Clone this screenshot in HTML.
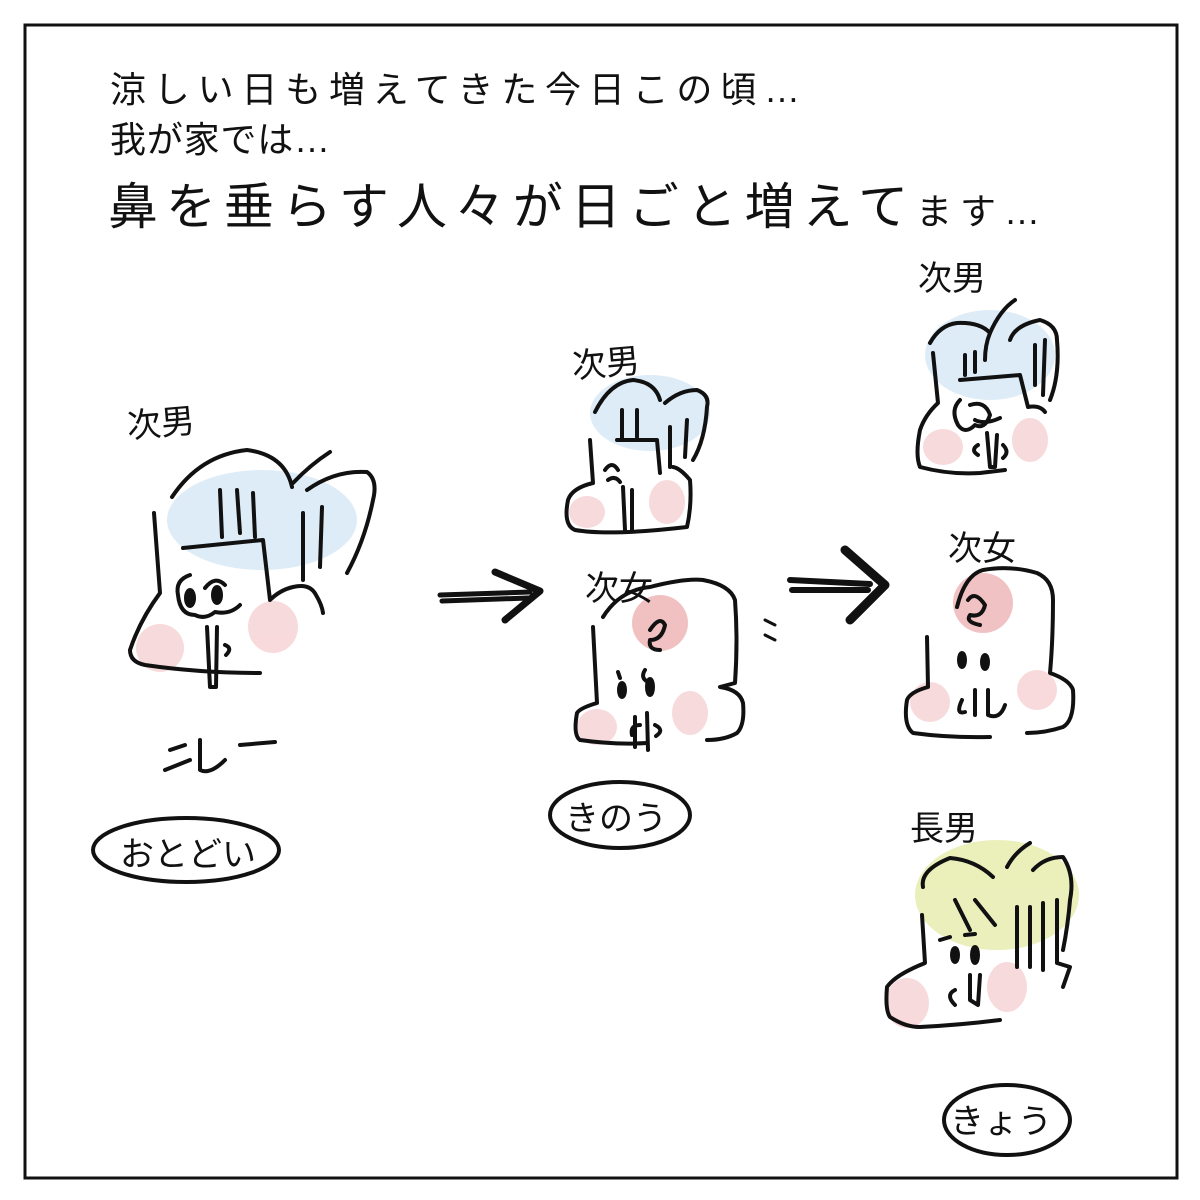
<!DOCTYPE html>
<html><head><meta charset="utf-8"><style>
html,body{margin:0;padding:0;background:#fff;}
svg{display:block}
text{font-family:"Liberation Sans","Noto Sans CJK JP",sans-serif;fill:#111}
</style></head><body>
<svg width="1200" height="1200" viewBox="0 0 1200 1200" xmlns="http://www.w3.org/2000/svg">
<rect x="0" y="0" width="1200" height="1200" fill="#fff"/>
<rect x="25" y="25" width="1152" height="1153" fill="none" stroke="#111" stroke-width="3"/>
<text x="110" y="102" font-size="36" textLength="690" lengthAdjust="spacing">涼しい日も増えてきた今日この頃…</text>
<text x="110" y="152" font-size="36" textLength="220" lengthAdjust="spacing">我が家では…</text>
<text x="108" y="224" font-size="50" textLength="932" lengthAdjust="spacing">鼻を垂らす人々が日ごと増えて<tspan font-size="36">ます…</tspan></text>

<!-- color blobs -->
<g opacity="0.6">
<ellipse cx="262" cy="520" rx="95" ry="50" fill="#c7e0f1"/>
<ellipse cx="160" cy="648" rx="24" ry="24" fill="#f3c2c5"/>
<ellipse cx="273" cy="627" rx="25" ry="26" fill="#f3c2c5"/>
<ellipse cx="650" cy="413" rx="60" ry="38" fill="#c7e0f1"/>
<ellipse cx="587" cy="512" rx="18" ry="16" fill="#f3c2c5"/>
<ellipse cx="667" cy="502" rx="18" ry="22" fill="#f3c2c5"/>
<ellipse cx="660" cy="623" rx="28" ry="28" fill="#e8999b"/>
<ellipse cx="597" cy="727" rx="20" ry="18" fill="#f3c2c5"/>
<ellipse cx="690" cy="713" rx="18" ry="22" fill="#f3c2c5"/>
<ellipse cx="990" cy="355" rx="65" ry="45" fill="#c7e0f1"/>
<ellipse cx="943" cy="447" rx="20" ry="18" fill="#f3c2c5"/>
<ellipse cx="1030" cy="440" rx="18" ry="22" fill="#f3c2c5"/>
<ellipse cx="983" cy="603" rx="30" ry="30" fill="#e8999b"/>
<ellipse cx="930" cy="702" rx="20" ry="20" fill="#f3c2c5"/>
<ellipse cx="1037" cy="690" rx="20" ry="20" fill="#f3c2c5"/>
<ellipse cx="997" cy="895" rx="82" ry="55" fill="#dde68e"/>
<ellipse cx="907" cy="1003" rx="22" ry="25" fill="#f3c2c5"/>
<ellipse cx="1007" cy="987" rx="20" ry="25" fill="#f3c2c5"/>
</g>
<g fill="none" stroke="#111" stroke-width="4" stroke-linecap="round" stroke-linejoin="round">
<!-- left face -->
<path d="M172 497 Q200 455 247 450 Q285 455 292 487"/>
<path d="M293 483 Q310 465 330 452"/>
<path d="M307 490 Q335 470 367 472 Q378 480 373 500 Q365 540 347 573"/>
<path d="M154 513 L160 593 Q140 620 130 650 Q130 662 145 665 Q200 673 260 673"/>
<path d="M183 548 L263 540 L270 600 Q280 590 293 587 Q310 583 316 595 Q322 605 323 613"/>
<path d="M220 490 L222 537 M237 490 L240 533 M253 493 L255 537 M303 513 L303 580 M322 507 L320 567"/>
<path d="M190 575 Q175 580 178 595 Q180 615 195 615 Q205 620 215 612 Q230 615 240 605"/>
<path d="M205 588 Q215 575 225 585"/>
<ellipse cx="190" cy="598" rx="4" ry="8" fill="#111"/>
<ellipse cx="217" cy="595" rx="4" ry="8" fill="#111"/>
<path d="M207 627 L210 687 L216 687 L217 627"/>
<path d="M225 645 Q233 648 226 655"/>
<path d="M170 750 L185 745 M165 770 L190 760 M200 740 L200 770 Q210 775 225 760 M240 745 L275 742"/>
<ellipse cx="186" cy="850" rx="93" ry="32"/>
<!-- arrows -->
<path d="M440 595 L530 592 M442 601 L528 598" stroke-width="5"/>
<path d="M495 572 L540 591 L505 620" stroke-width="7"/>
<path d="M790 580 L870 584 M792 590 L868 590" stroke-width="6"/>
<path d="M845 550 L885 585 L850 620" stroke-width="9"/>
<path d="M765 620 L775 625 M765 635 L775 640" stroke-width="3"/>
<!-- middle top -->
<path d="M595 412 Q610 382 633 380 Q655 382 660 400"/>
<path d="M665 403 Q680 390 697 390 Q710 395 707 407 Q705 440 693 460"/>
<path d="M590 440 L593 483 Q572 488 568 500 Q563 525 575 530 Q610 536 687 527 Q692 505 690 480 Q680 468 673 467"/>
<path d="M617 440 L657 440 L660 473"/>
<path d="M622 410 L622 440 M637 410 L637 437 M670 427 L670 467 M687 420 L685 457"/>
<path d="M623 487 L625 530 M632 490 L632 530"/>
<path d="M605 470 Q612 460 618 470 M608 480 Q615 475 620 482"/>
<!-- middle bottom -->
<path d="M603 617 Q620 590 650 587 Q685 578 703 580 Q730 585 735 600 Q738 640 735 683 Q720 687 720 687 Q740 690 743 703 Q745 725 737 733 Q725 740 707 740"/>
<path d="M593 627 L597 703 Q580 708 577 713 Q573 735 580 740 Q615 745 647 743"/>
<path d="M650 630 Q660 615 665 625 Q662 640 650 640 Q648 650 660 650"/>
<ellipse cx="622" cy="690" rx="3" ry="7" fill="#111"/>
<ellipse cx="650" cy="687" rx="3" ry="8" fill="#111"/>
<path d="M618 672 L620 678 M645 670 Q640 678 648 682"/>
<path d="M635 717 L635 747 M647 713 L648 750 M640 725 Q630 725 632 735 M655 725 Q665 730 656 736"/>
<ellipse cx="620" cy="815" rx="70" ry="33"/>
<!-- right top -->
<path d="M930 343 Q940 325 957 323 Q980 322 990 333 Q985 345 985 360"/>
<path d="M990 333 Q1000 310 1015 300"/>
<path d="M1010 340 Q1015 325 1040 320 Q1057 325 1057 340 Q1060 375 1050 400"/>
<path d="M933 353 L938 403 Q925 415 920 430 Q915 455 920 467 Q950 475 980 473 L1005 470"/>
<path d="M960 380 L1020 375 L1028 407 Q1040 405 1045 412"/>
<path d="M965 355 L965 375 M975 352 L975 372 M1035 345 L1035 385 M1045 340 L1043 395"/>
<path d="M960 400 Q950 410 958 425 Q965 435 975 425 Q985 430 990 415 Q985 400 970 405"/>
<path d="M975 420 Q985 425 1000 418"/>
<path d="M987 433 L990 467 L995 467 L997 435"/>
<path d="M978 445 Q970 450 978 455 M1003 445 Q1010 452 1003 458"/>
<!-- right middle -->
<path d="M957 607 Q965 575 983 570 Q1010 565 1037 573 Q1053 580 1053 600 Q1053 640 1050 673 Q1070 680 1073 690 Q1075 720 1063 727 Q1045 733 1027 733"/>
<path d="M927 637 L928 687 Q910 692 907 700 Q903 725 913 733 Q950 738 990 737"/>
<path d="M968 600 Q975 590 985 605 Q982 618 970 615 Q965 622 980 625"/>
<ellipse cx="962" cy="660" rx="3" ry="7" fill="#111"/>
<ellipse cx="985" cy="662" rx="3" ry="7" fill="#111"/>
<path d="M962 700 Q955 715 965 712 M975 690 L975 715 M988 690 L988 715 Q1000 720 1005 705"/>
<!-- right bottom -->
<path d="M923 887 Q920 870 950 858 Q975 860 993 877"/>
<path d="M1007 867 Q1015 852 1030 843"/>
<path d="M1033 870 Q1045 857 1063 857 Q1075 875 1070 900 Q1068 925 1063 950"/>
<path d="M922 915 L925 963 Q895 975 887 987 Q885 1010 890 1017 Q905 1027 920 1027 Q960 1025 1000 1020"/>
<path d="M1017 907 L1017 967 M1030 907 L1030 967 M1043 903 L1043 970 M1057 900 L1057 963 L1070 967 L1063 987"/>
<path d="M955 900 L970 930 M975 900 L995 925"/>
<path d="M940 940 L950 937 M965 935 L975 934"/>
<ellipse cx="955" cy="955" rx="3" ry="7" fill="#111"/>
<ellipse cx="975" cy="955" rx="3" ry="8" fill="#111"/>
<path d="M970 975 L970 1000 L978 1005 L980 975 M955 990 Q945 995 955 1005"/>
<ellipse cx="1007" cy="1120" rx="63" ry="35"/>
</g>
<g font-size="34">
<text x="128" y="438" transform="rotate(-5 128 438)">次男</text>
<text x="573" y="378" transform="rotate(-5 573 378)">次男</text>
<text x="918" y="290">次男</text>
<text x="585" y="600">次女</text>
<text x="948" y="560">次女</text>
<text x="910" y="840">長男</text>
<text x="120" y="866">おとどい</text>
<text x="565" y="830">きのう</text>
<text x="950" y="1133">きょう</text>
</g>
</svg>
</body></html>
